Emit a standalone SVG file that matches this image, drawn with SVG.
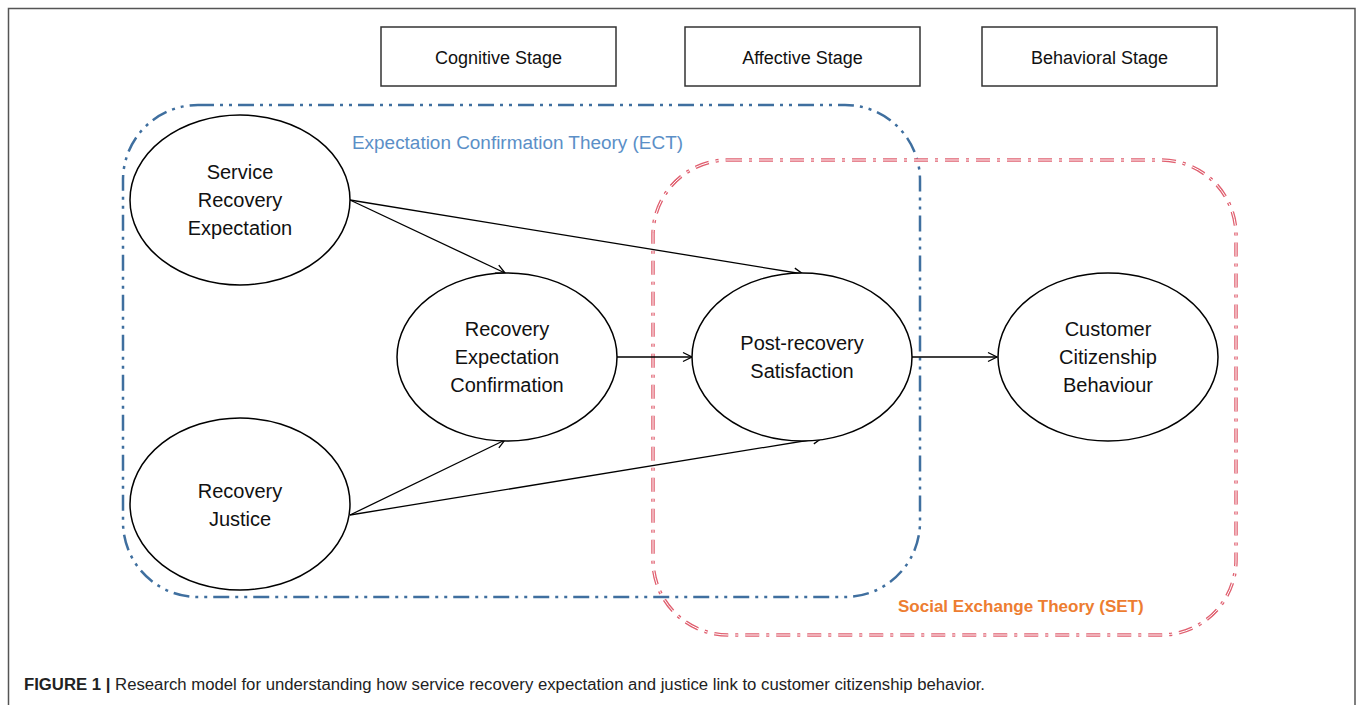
<svg xmlns="http://www.w3.org/2000/svg" width="1358" height="705" viewBox="0 0 1358 705">
<defs>
<style>
.node{fill:#fff;stroke:#000;stroke-width:1.5}
.t{font-family:"Liberation Sans",Arial,sans-serif;font-size:20px;fill:#111;text-anchor:middle}
.st{font-family:"Liberation Sans",Arial,sans-serif;font-size:18px;fill:#111;text-anchor:middle}
.stage{fill:#fff;stroke:#333;stroke-width:1.5}
.conn line{stroke:#000;stroke-width:1.3;marker-end:url(#arr)}
</style>
<marker id="arr" markerWidth="12" markerHeight="12" refX="10" refY="5" orient="auto" markerUnits="userSpaceOnUse" viewBox="0 0 12 10">
<path d="M1,0.5 L10,5 L1,9.5" fill="none" stroke="#000" stroke-width="1.3"/>
</marker>
</defs>
<rect width="1358" height="705" fill="#fff"/>
<path d="M8.5,720 V8.5 H1355 V720" fill="none" stroke="#555" stroke-width="1.5"/>

<g id="stage-cognitive"><rect class="stage" x="381" y="27" width="235" height="59"/><text class="st" x="498.5" y="64">Cognitive Stage</text></g>
<g id="stage-affective"><rect class="stage" x="685" y="27" width="235" height="59"/><text class="st" x="802.5" y="64">Affective Stage</text></g>
<g id="stage-behavioral"><rect class="stage" x="982" y="27" width="235" height="59"/><text class="st" x="1099.5" y="64">Behavioral Stage</text></g>

<g id="ect">
<rect x="123" y="105" width="797" height="492" rx="75" ry="75" fill="none" stroke="#3f6f9f" stroke-width="2.5" stroke-dasharray="16,6,3,6,3,6"/>
<text x="352" y="149" font-family="Liberation Sans,Arial,sans-serif" font-size="18" fill="#5b8fc7" textLength="331" lengthAdjust="spacingAndGlyphs">Expectation Confirmation Theory (ECT)</text>
</g>
<g id="set">
<rect x="653" y="160" width="583" height="475" rx="75" ry="75" fill="none" stroke="#e06070" stroke-width="3.5" stroke-dasharray="14,7,3,7"/>
<rect x="653" y="160" width="583" height="475" rx="75" ry="75" fill="none" stroke="#fff" stroke-width="1" stroke-dasharray="14,7,3,7"/>
<text x="898" y="612" font-family="Liberation Sans,Arial,sans-serif" font-size="17" font-weight="bold" fill="#ed7d31">Social Exchange Theory (SET)</text>
</g>

<g class="conn" id="connectors">
<line x1="350" y1="200" x2="505" y2="273"/>
<line x1="350" y1="200" x2="803" y2="274"/>
<line x1="617" y1="357" x2="692" y2="357"/>
<line x1="350" y1="515" x2="505" y2="440"/>
<line x1="350" y1="515" x2="822" y2="438"/>
<line x1="912" y1="357" x2="997" y2="357"/>
</g>

<g id="n-sre"><ellipse class="node" cx="240" cy="200" rx="110" ry="85"/><text class="t" x="240" y="179">Service</text><text class="t" x="240" y="207">Recovery</text><text class="t" x="240" y="235">Expectation</text></g>
<g id="n-rj"><ellipse class="node" cx="240" cy="504" rx="110" ry="86"/><text class="t" x="240" y="498">Recovery</text><text class="t" x="240" y="526">Justice</text></g>
<g id="n-rec"><ellipse class="node" cx="507" cy="357" rx="110" ry="84"/><text class="t" x="507" y="336">Recovery</text><text class="t" x="507" y="364">Expectation</text><text class="t" x="507" y="392">Confirmation</text></g>
<g id="n-prs"><ellipse class="node" cx="802" cy="357" rx="110" ry="84"/><text class="t" x="802" y="350">Post-recovery</text><text class="t" x="802" y="378">Satisfaction</text></g>
<g id="n-ccb"><ellipse class="node" cx="1108" cy="357" rx="110" ry="84"/><text class="t" x="1108" y="336">Customer</text><text class="t" x="1108" y="364">Citizenship</text><text class="t" x="1108" y="392">Behaviour</text></g>

<text x="24" y="690" font-family="Liberation Sans,Arial,sans-serif" font-size="16" fill="#222" textLength="961" lengthAdjust="spacingAndGlyphs"><tspan font-weight="bold">FIGURE 1 |</tspan> Research model for understanding how service recovery expectation and justice link to customer citizenship behavior.</text>
</svg>
